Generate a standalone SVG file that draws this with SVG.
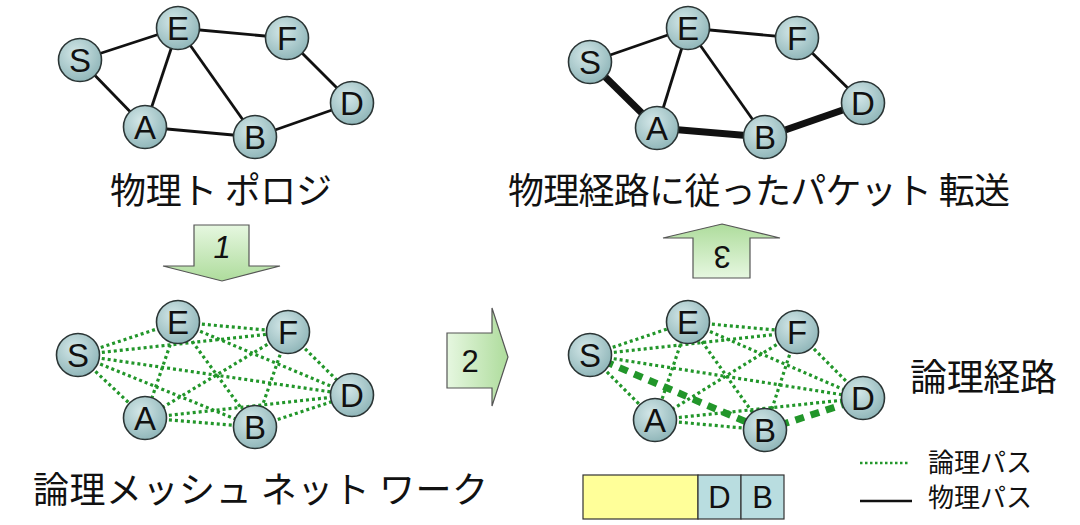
<svg xmlns="http://www.w3.org/2000/svg" width="1080" height="525" viewBox="0 0 1080 525">
<defs>
<radialGradient id="ng" cx="40%" cy="35%" r="70%">
<stop offset="0" stop-color="#d3e7e8"/>
<stop offset="1" stop-color="#8db4b7"/>
</radialGradient>
<linearGradient id="ag" x1="0" y1="0" x2="0" y2="1">
<stop offset="0" stop-color="#e6f7e0"/>
<stop offset="1" stop-color="#aedc9c"/>
</linearGradient>
<linearGradient id="ag2" x1="0" y1="0" x2="1" y2="0">
<stop offset="0" stop-color="#e6f7e0"/>
<stop offset="1" stop-color="#aedc9c"/>
</linearGradient>
<linearGradient id="ag3" x1="0" y1="1" x2="0" y2="0">
<stop offset="0" stop-color="#e6f7e0"/>
<stop offset="1" stop-color="#aedc9c"/>
</linearGradient>
</defs>
<style>
.n circle{fill:url(#ng);stroke:#2b3535;stroke-width:1.6}
.n text{font-family:"Liberation Sans",Arial,sans-serif;font-size:33px;fill:#111;text-anchor:middle}
.e{stroke:#111;stroke-width:2.8;fill:none}
.t{stroke:#111;stroke-width:7;fill:none}
.m{stroke:#22962a;stroke-width:3.2;stroke-dasharray:3 3;fill:none}
.lp{stroke:#22962a;stroke-width:7;stroke-dasharray:9 7;fill:none}
.jp{font-family:"Noto Sans CJK JP","Liberation Sans",sans-serif;fill:#111}
.ar{stroke:#555;stroke-width:1.2}
.al{font-family:"Liberation Sans",Arial,sans-serif;font-size:31px;fill:#111;text-anchor:middle}
</style>

<g id="connectors">
<line class="e" x1="80" y1="60" x2="178" y2="28"/>
<line class="e" x1="80" y1="60" x2="145" y2="127"/>
<line class="e" x1="178" y1="28" x2="145" y2="127"/>
<line class="e" x1="178" y1="28" x2="255" y2="137"/>
<line class="e" x1="178" y1="28" x2="287" y2="38"/>
<line class="e" x1="287" y1="38" x2="352" y2="103"/>
<line class="e" x1="145" y1="127" x2="255" y2="137"/>
<line class="e" x1="255" y1="137" x2="352" y2="103"/>
<line class="e" x1="590" y1="62" x2="688" y2="28"/>
<line class="e" x1="688" y1="28" x2="657" y2="128"/>
<line class="e" x1="688" y1="28" x2="765" y2="137"/>
<line class="e" x1="688" y1="28" x2="797" y2="38"/>
<line class="e" x1="797" y1="38" x2="863" y2="103"/>
<line class="t" x1="590" y1="62" x2="657" y2="128"/>
<line class="t" x1="657" y1="128" x2="765" y2="137"/>
<line class="t" x1="765" y1="137" x2="863" y2="103"/>
<line class="m" x1="78" y1="355" x2="178" y2="322"/>
<line class="m" x1="78" y1="355" x2="288" y2="332"/>
<line class="m" x1="78" y1="355" x2="352" y2="395"/>
<line class="m" x1="78" y1="355" x2="255" y2="427"/>
<line class="m" x1="78" y1="355" x2="145" y2="418"/>
<line class="m" x1="178" y1="322" x2="288" y2="332"/>
<line class="m" x1="178" y1="322" x2="352" y2="395"/>
<line class="m" x1="178" y1="322" x2="255" y2="427"/>
<line class="m" x1="178" y1="322" x2="145" y2="418"/>
<line class="m" x1="288" y1="332" x2="352" y2="395"/>
<line class="m" x1="288" y1="332" x2="255" y2="427"/>
<line class="m" x1="288" y1="332" x2="145" y2="418"/>
<line class="m" x1="145" y1="418" x2="255" y2="427"/>
<line class="m" x1="145" y1="418" x2="352" y2="395"/>
<line class="m" x1="255" y1="427" x2="352" y2="395"/>
<line class="m" x1="590" y1="355" x2="688" y2="322"/>
<line class="m" x1="590" y1="355" x2="797" y2="332"/>
<line class="m" x1="590" y1="355" x2="863" y2="398"/>
<line class="m" x1="590" y1="355" x2="655" y2="420"/>
<line class="m" x1="688" y1="322" x2="797" y2="332"/>
<line class="m" x1="688" y1="322" x2="863" y2="398"/>
<line class="m" x1="688" y1="322" x2="765" y2="430"/>
<line class="m" x1="688" y1="322" x2="655" y2="420"/>
<line class="m" x1="797" y1="332" x2="863" y2="398"/>
<line class="m" x1="797" y1="332" x2="765" y2="430"/>
<line class="m" x1="797" y1="332" x2="655" y2="420"/>
<line class="m" x1="655" y1="420" x2="765" y2="430"/>
<line class="m" x1="655" y1="420" x2="863" y2="398"/>
<line class="lp" x1="590" y1="355" x2="765" y2="430"/>
<line class="lp" x1="765" y1="430" x2="863" y2="398"/>
</g>

<g id="nodes-physical">
<g id="p1-S" class="n"><circle cx="80" cy="60" r="21.5"/><text x="80" y="72">S</text></g>
<g id="p1-E" class="n"><circle cx="178" cy="28" r="21.5"/><text x="178" y="40">E</text></g>
<g id="p1-F" class="n"><circle cx="287" cy="38" r="21.5"/><text x="287" y="50">F</text></g>
<g id="p1-D" class="n"><circle cx="352" cy="103" r="21.5"/><text x="352" y="115">D</text></g>
<g id="p1-A" class="n"><circle cx="145" cy="127" r="21.5"/><text x="145" y="139">A</text></g>
<g id="p1-B" class="n"><circle cx="255" cy="137" r="21.5"/><text x="255" y="149">B</text></g>
</g>
<g id="nodes-path">
<g id="p2-S" class="n"><circle cx="590" cy="62" r="21.5"/><text x="590" y="74">S</text></g>
<g id="p2-E" class="n"><circle cx="688" cy="28" r="21.5"/><text x="688" y="40">E</text></g>
<g id="p2-F" class="n"><circle cx="797" cy="38" r="21.5"/><text x="797" y="50">F</text></g>
<g id="p2-D" class="n"><circle cx="863" cy="103" r="21.5"/><text x="863" y="115">D</text></g>
<g id="p2-A" class="n"><circle cx="657" cy="128" r="21.5"/><text x="657" y="140">A</text></g>
<g id="p2-B" class="n"><circle cx="765" cy="137" r="21.5"/><text x="765" y="149">B</text></g>
</g>
<g id="nodes-mesh">
<g id="m1-S" class="n"><circle cx="78" cy="355" r="21.5"/><text x="78" y="367">S</text></g>
<g id="m1-E" class="n"><circle cx="178" cy="322" r="21.5"/><text x="178" y="334">E</text></g>
<g id="m1-F" class="n"><circle cx="288" cy="332" r="21.5"/><text x="288" y="344">F</text></g>
<g id="m1-D" class="n"><circle cx="352" cy="395" r="21.5"/><text x="352" y="407">D</text></g>
<g id="m1-A" class="n"><circle cx="145" cy="418" r="21.5"/><text x="145" y="430">A</text></g>
<g id="m1-B" class="n"><circle cx="255" cy="427" r="21.5"/><text x="255" y="439">B</text></g>
</g>
<g id="nodes-logical">
<g id="m2-S" class="n"><circle cx="590" cy="355" r="21.5"/><text x="590" y="367">S</text></g>
<g id="m2-E" class="n"><circle cx="688" cy="322" r="21.5"/><text x="688" y="334">E</text></g>
<g id="m2-F" class="n"><circle cx="797" cy="332" r="21.5"/><text x="797" y="344">F</text></g>
<g id="m2-D" class="n"><circle cx="863" cy="398" r="21.5"/><text x="863" y="410">D</text></g>
<g id="m2-A" class="n"><circle cx="655" cy="420" r="21.5"/><text x="655" y="432">A</text></g>
<g id="m2-B" class="n"><circle cx="765" cy="430" r="21.5"/><text x="765" y="442">B</text></g>
</g>

<g id="arrow1">
<path class="ar" fill="url(#ag)" d="M194,225 H249 V266 H280 L222,281 L163,266 H194 Z"/>
<text class="al" x="222" y="258" font-style="italic">1</text>
</g>
<g id="arrow2">
<path class="ar" fill="url(#ag2)" d="M447,333 H492 V308 L508,357 L492,406 V388 H447 Z"/>
<text class="al" x="470" y="372">2</text>
</g>
<g id="arrow3">
<path class="ar" fill="url(#ag3)" d="M722,224 L780,238 H750 V278 H693 V238 H663 Z"/>
<text class="al" x="0" y="0" transform="translate(722,257) rotate(180) translate(0,11)">3</text>
</g>

<g id="titles">
<text class="jp" x="110" y="204" font-size="36" textLength="222" lengthAdjust="spacing">物理ト ポロジ</text>
<text class="jp" x="508" y="204" font-size="36" textLength="502" lengthAdjust="spacing">物理経路に従ったパケット 転送</text>
<text class="jp" x="33" y="503" font-size="36" textLength="455" lengthAdjust="spacing">論理メッシュ ネット ワーク</text>
<text class="jp" x="910" y="391" font-size="37" textLength="147" lengthAdjust="spacing">論理経路</text>
</g>

<g id="packet">
<rect x="583" y="475" width="115" height="44" fill="#ffff99" stroke="#333" stroke-width="1.2"/>
<rect x="698" y="475" width="43" height="44" fill="#b9dde0" stroke="#333" stroke-width="1.2"/>
<rect x="741" y="475" width="43" height="44" fill="#b9dde0" stroke="#333" stroke-width="1.2"/>
<text class="al" x="719.5" y="508">D</text>
<text class="al" x="762.5" y="508">B</text>
</g>

<g id="legend">
<line x1="860" y1="463" x2="910" y2="463" stroke="#22962a" stroke-width="2.5" stroke-dasharray="2.5 2.5"/>
<line x1="860" y1="501" x2="912" y2="501" stroke="#111" stroke-width="2.5"/>
<text class="jp" x="928" y="472" font-size="26" textLength="104" lengthAdjust="spacing">論理パス</text>
<text class="jp" x="928" y="507" font-size="26" textLength="104" lengthAdjust="spacing">物理パス</text>
</g>
</svg>
